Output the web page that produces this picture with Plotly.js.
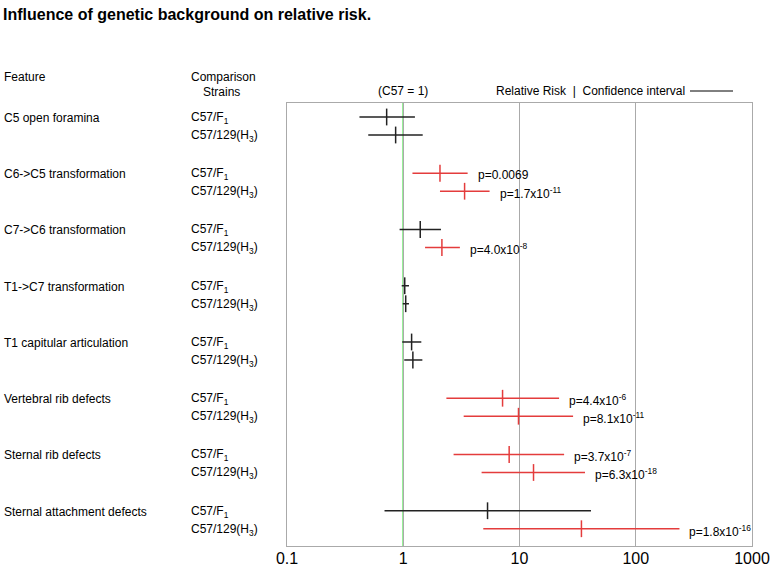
<!DOCTYPE html>
<html>
<head>
<meta charset="utf-8">
<script src="https://cdn.plot.ly/plotly-3.0.1.min.js"></script>
<style>html,body{margin:0;padding:0;background:#fff;}</style>
</head>
<body>
<div id="chart" style="width:771px;height:567px;"></div>
<script>
// ---- data ----
const features = ["C5 open foramina", "C6->C5 transformation", "C7->C6 transformation",
  "T1->C7 transformation", "T1 capitular articulation", "Vertebral rib defects",
  "Sternal rib defects", "Sternal attachment defects"];
const strains = ["C57/F<sub>1</sub>", "C57/129(H<sub>3</sub>)"];
const rrF1 = [0.72, 2.07, 1.40, 1.03, 1.18, 7.15, 8.15, 5.31];
const loF1 = [0.42, 1.20, 0.93, 0.97, 0.98, 2.35, 2.71, 0.69];
const hiF1 = [1.26, 3.58, 2.11, 1.12, 1.43, 21.9, 24.2, 41.2];
const rrH3 = [0.86, 3.37, 2.15, 1.05, 1.21, 9.8, 13.2, 34.1];
const loH3 = [0.50, 2.07, 1.54, 0.99, 1.02, 3.31, 4.72, 4.88];
const hiH3 = [1.47, 5.53, 3.07, 1.12, 1.46, 28.9, 36.6, 237.7];
const pF1 = [null, "p=0.0069", null, null, null, "p=4.4x10<sup>-6</sup>", "p=3.7x10<sup>-7</sup>", null];
const pH3 = [null, "p=1.7x10<sup>-11</sup>", "p=4.0x10<sup>-8</sup>", null, null,
  "p=8.1x10<sup>-11</sup>", "p=6.3x10<sup>-18</sup>", "p=1.8x10<sup>-16</sup>"];
const tickVals = [0.1, 1, 10, 100, 1000];
const tickText = ["0.1", "1", "10", "100", "1000"];

// ---- build ----
const RED = "rgb(228,60,60)";
const BLACK = "#222";
const FONT = "Liberation Sans, Arial, sans-serif";
const FS = 12;
const groups = {red: {x: [], y: [], ep: [], em: []}, black: {x: [], y: [], ep: [], em: []}};
const annotations = [];
const rows = [];
features.forEach((f, g) => {
  rows.push({y: g * 25, rr: rrF1[g], lo: loF1[g], hi: hiF1[g], p: pF1[g], s: strains[0]});
  rows.push({y: g * 25 + 8, rr: rrH3[g], lo: loH3[g], hi: hiH3[g], p: pH3[g], s: strains[1]});
  annotations.push({xref: "paper", yref: "y", x: 0, y: g * 25, xanchor: "left", yanchor: "middle",
    xshift: -285, yshift: -1, text: f, showarrow: false, font: {family: FONT, size: FS, color: "#000"}});
});
rows.forEach(r => {
  const grp = r.p ? groups.red : groups.black;
  grp.x.push(r.rr); grp.y.push(r.y);
  grp.ep.push(r.hi - r.rr); grp.em.push(r.rr - r.lo);
  annotations.push({xref: "paper", yref: "y", x: 0, y: r.y, xanchor: "left", yanchor: "middle",
    xshift: -98, yshift: -1, text: r.s, showarrow: false, font: {family: FONT, size: FS, color: "#000"}});
  if (r.p) {
    annotations.push({xref: "x", yref: "y", x: Math.log10(r.hi), y: r.y, xanchor: "left", yanchor: "middle",
      xshift: 8, yshift: -2, text: r.p, showarrow: false, font: {family: FONT, size: FS, color: "#000"}});
  }
});

const traces = [["black", BLACK], ["red", RED]].map(([k, c]) => ({
  type: "scatter", mode: "markers", x: groups[k].x, y: groups[k].y,
  marker: {symbol: "line-ns", size: 12, color: c, line: {color: c, width: 1.5}},
  error_x: {type: "data", symmetric: false, array: groups[k].ep, arrayminus: groups[k].em,
    width: 0, thickness: 1.5, color: c},
  hoverinfo: "x", showlegend: false
}));

// header texts
const hdr = (text, xref, x, xshift, yshift, xanchor) => ({xref: xref, yref: "paper", x: x, y: 1,
  xanchor: xanchor || "left", yanchor: "middle", xshift: xshift, yshift: yshift, text: text,
  showarrow: false, font: {family: FONT, size: FS, color: "#000"}});
annotations.push(hdr("Feature", "paper", 0, -285, 26));
annotations.push(hdr("Comparison", "paper", 0, -98, 26));
annotations.push(hdr("Strains", "paper", 0, -66, 11, "center"));
annotations.push(hdr("(C57 = 1)", "x", 0, 0, 12, "center"));
annotations.push(hdr("Relative Risk  |  Confidence interval", "paper", 0, 207, 12));

const layout = {
  width: 771, height: 567,
  margin: {l: 287, r: 19, t: 103, b: 21},
  paper_bgcolor: "#fff", plot_bgcolor: "#fff",
  title: {text: "<b>Influence of genetic background on relative risk.</b>", x: 3 / 771, xanchor: "left",
    xref: "container", yref: "container", y: 1 - 14 / 567, yanchor: "middle",
    font: {family: FONT, size: 16, color: "#000"}},
  xaxis: {type: "log", range: [-1, 3], tickvals: tickVals, ticktext: tickText,
    showgrid: true, gridcolor: "#aaa", gridwidth: 1, zeroline: false,
    showline: true, linecolor: "#aaa", linewidth: 1, mirror: true, ticks: "", ticklabelstandoff: -2,
    tickfont: {family: FONT, size: 16, color: "#000"}},
  yaxis: {range: [190.67, -6.22], showgrid: false, zeroline: false, showticklabels: false,
    showline: true, linecolor: "#aaa", linewidth: 1, mirror: true, ticks: ""},
  shapes: [
    {type: "line", xref: "x", yref: "paper", x0: 1, x1: 1, y0: 0, y1: 1, layer: "below",
      line: {color: "rgb(50,225,50)", width: 1.5}},
    {type: "line", xref: "paper", yref: "paper", x0: (690 - 287) / 465, x1: (733 - 287) / 465,
      y0: 1 + 12 / 443, y1: 1 + 12 / 443, line: {color: "#000", width: 1}}
  ],
  annotations: annotations
};
Plotly.newPlot("chart", traces, layout, {displayModeBar: false, staticPlot: true});
</script>
</body>
</html>
